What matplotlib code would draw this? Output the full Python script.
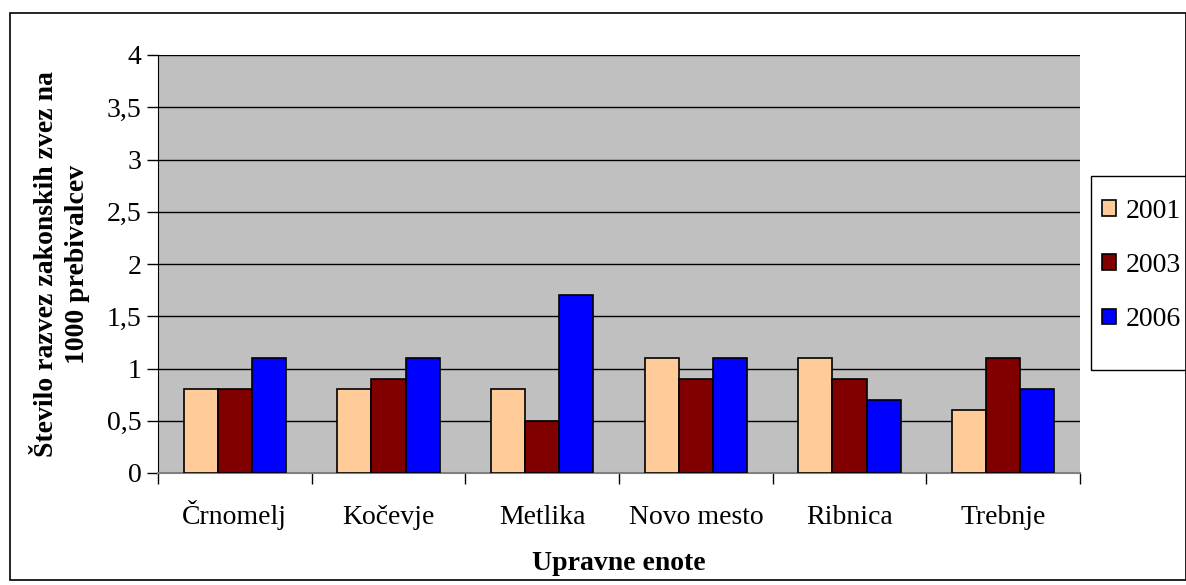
import matplotlib.pyplot as plt
import numpy as np
from matplotlib.patches import Rectangle

categories = ["Črnomelj", "Kočevje", "Metlika", "Novo mesto", "Ribnica", "Trebnje"]
years = ["2001", "2003", "2006"]
v2001 = [0.8, 0.8, 0.8, 1.1, 1.1, 0.6]
v2003 = [0.8, 0.9, 0.5, 0.9, 0.9, 1.1]
v2006 = [1.1, 1.1, 1.7, 1.1, 0.7, 0.8]
colors = ["#FFCC99", "#800000", "#0000FF"]
yticks = [0, 0.5, 1, 1.5, 2, 2.5, 3, 3.5, 4]
ytick_labels = ["0", "0,5", "1", "1,5", "2", "2,5", "3", "3,5", "4"]

plt.rcParams["font.family"] = ["Liberation Serif", "DejaVu Serif"]

W, H = 1186, 585
fig = plt.figure(figsize=(W / 100, H / 100), dpi=100)
ax = fig.add_axes([158 / W, 1 - 473 / H, (1080 - 158) / W, (473 - 55) / H])
ax.set_facecolor("#C0C0C0")

x = np.arange(len(categories))
bw = 0.222
for i, (vals, c, lab) in enumerate(zip([v2001, v2003, v2006], colors, years)):
    ax.bar(x + (i - 1) * bw, vals, bw, color=c, edgecolor="black", linewidth=1.2,
           label=lab, zorder=3)

ax.set_xlim(-0.5, len(categories) - 0.5)
ax.set_ylim(0, 4)
ax.set_yticks(yticks)
ax.set_yticklabels(ytick_labels, fontsize=20)
ax.yaxis.grid(True, color="black", linewidth=1)
ax.set_axisbelow(True)
ax.set_xticks(x)
ax.set_xticklabels(categories, fontsize=20)
for t in ax.get_xticklabels():
    t.set_va("baseline")
ax.tick_params(axis="x", length=0, pad=37)
ax.set_xticks(np.arange(-0.5, len(categories)), minor=True)
ax.tick_params(axis="x", which="minor", length=8, width=1, color="black")
ax.tick_params(axis="y", length=8, width=1, pad=4)
for s in ["top", "right"]:
    ax.spines[s].set_visible(False)
ax.spines["left"].set_color("black")
ax.spines["bottom"].set_color("#808080")
ax.spines["bottom"].set_linewidth(1.5)

ax.set_xlabel("Upravne enote", fontsize=20, fontweight="bold", labelpad=15)
ax.set_ylabel("Število razvez zakonskih zvez na\n1000 prebivalcev", fontsize=20,
              fontweight="bold", labelpad=12, linespacing=1.3)

# legend frame drawn separately (Excel-style uneven padding)
fig.patches.append(Rectangle((1091 / W, 1 - 370 / H), (W - 1091 + 20) / W, 194 / H,
                             transform=fig.transFigure, fill=False,
                             edgecolor="black", linewidth=1))
fig.legend(loc="upper left", bbox_to_anchor=(1102 / W, 1 - 199 / H),
           fontsize=20, frameon=False, handlelength=0.5, handleheight=0.5,
           handletextpad=0.35, labelspacing=1.05, borderpad=0, borderaxespad=0)

fig.patches.append(Rectangle((10 / W, 5 / H), (W - 10) / W, 1 - 18 / H, transform=fig.transFigure,
                             fill=False, edgecolor="black", linewidth=1.2))

fig.savefig("out.png", dpi=100)
